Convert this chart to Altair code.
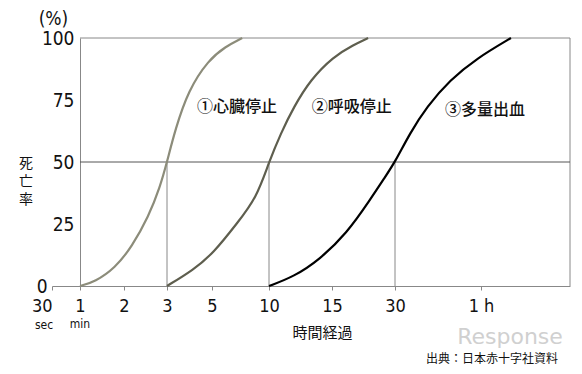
import altair as alt
import pandas as pd

# ---- data ----
c1_min = [1.0, 1.34, 1.80, 2.18, 2.57, 2.84, 3.0, 3.36, 3.95, 4.84, 6.16, 7.65]
c1_pct = [0, 1.7, 7.3, 15.8, 27.9, 40.0, 50, 62.9, 79.0, 91.1, 96.5, 100]

c2_min = [3.0, 4.17, 5.12, 7.2, 8.9, 10.0, 10.94, 11.98, 13.28, 15.3, 20.1, 23.6]
c2_pct = [0, 6.5, 13.2, 25.3, 35.5, 50, 61.6, 72.3, 83.1, 92.5, 97.2, 100]

c3_min = [10, 11.98, 13.98, 18.5, 24.05, 27.7, 30, 35.2, 41.1, 49.2, 58.5, 70.1]
c3_pct = [0, 3.8, 10.5, 21.2, 34.7, 44.1, 50, 61.6, 72.3, 83.1, 91.8, 100]

series_names = ["①心臓停止", "②呼吸停止", "③多量出血"]
series_colors = ["#8c8c7a", "#5e5e4e", "#000000"]

x_ticks = [0.5, 1, 2, 3, 5, 10, 15, 30, 60]
x_domain = [0.5, 1, 2, 3, 5, 10, 15, 30, 60, 90]
y_ticks = [0, 25, 50, 75, 100]

drop_x = [3, 10, 30]          # minutes where each curve reaches 50%
half_level = 50
frame_start, frame_end = 1, 90

label_x = [4.33, 13.4, 47.4]  # annotation left edges (minutes)
label_y = [72, 72, 71]

NUM_FONT = "Liberation Sans Narrow, DejaVu Sans Condensed, Roboto Condensed, Arial Narrow, sans-serif"
JP_FONT = "Noto Sans CJK JP"

# ---- tables ----
rows = []
for name, xs, ys in zip(series_names, [c1_min, c2_min, c3_min], [c1_pct, c2_pct, c3_pct]):
    for i, (a, b) in enumerate(zip(xs, ys)):
        rows.append({"series": name, "t": a, "p": b, "o": i})
curves = pd.DataFrame(rows)

xscale = alt.Scale(domain=x_domain, range=[0, 28, 72, 115, 160, 217, 280, 343, 429, 518],
                   nice=False, zero=False)
yscale = alt.Scale(domain=[0, 100], nice=False, zero=True)

base_x_axis = alt.Axis(
    values=x_ticks,
    labelExpr="datum.value == 0.5 ? '30' : datum.value == 60 ? '1 h' : format(datum.value, 'd')",
    labelAlign={"condition": {"test": "datum.value == 0.5", "value": "right"}, "value": "center"},
    labelFont=NUM_FONT, labelFontSize=18, labelColor="#111", labelPadding=7,
    tickSize=4, tickColor="#888", domainColor="#888", grid=False,
    title="時間経過", titleFont=JP_FONT, titleFontSize=15, titleFontWeight="normal",
    titleColor="#111", titleX=270, titleY=46, titleBaseline="middle",
)
base_y_axis = alt.Axis(
    values=y_ticks, offset=-28, ticks=False, grid=False, domainColor="#888",
    labelFont=NUM_FONT, labelFontSize=19, labelColor="#111",
    labelPadding={"condition": {"test": "datum.value == 0", "value": 33}, "value": 6},
    title="(%)", titleAngle=0, titleFont=NUM_FONT, titleFontSize=19,
    titleFontWeight="normal", titleColor="#111", titleX=-27, titleY=-20,
    titleAlign="center", titleBaseline="middle",
)

lines = alt.Chart(curves).mark_line(interpolate="basis", strokeWidth=2.2).encode(
    x=alt.X("t:Q", scale=xscale, axis=base_x_axis),
    y=alt.Y("p:Q", scale=yscale, axis=base_y_axis),
    color=alt.Color("series:N", scale=alt.Scale(domain=series_names, range=series_colors), legend=None),
    order="o:Q",
)

frame_top = alt.Chart(pd.DataFrame({"a": [frame_start], "b": [frame_end], "y": [100]})).mark_rule(
    color="#888", strokeWidth=1).encode(x=alt.X("a:Q", scale=xscale), x2="b:Q", y=alt.Y("y:Q", scale=yscale))
frame_right = alt.Chart(pd.DataFrame({"a": [frame_end], "y0": [0], "y1": [100]})).mark_rule(
    color="#888", strokeWidth=1).encode(x=alt.X("a:Q", scale=xscale), y=alt.Y("y0:Q", scale=yscale), y2="y1:Q")
half = alt.Chart(pd.DataFrame({"a": [frame_start], "b": [frame_end], "y": [half_level]})).mark_rule(
    color="#555", strokeWidth=1).encode(x=alt.X("a:Q", scale=xscale), x2="b:Q", y=alt.Y("y:Q", scale=yscale))
drops = alt.Chart(pd.DataFrame({"a": drop_x, "y0": [0] * 3, "y1": [half_level] * 3})).mark_rule(
    color="#888", strokeWidth=1).encode(x=alt.X("a:Q", scale=xscale), y=alt.Y("y0:Q", scale=yscale), y2="y1:Q")

labels = alt.Chart(pd.DataFrame({"x": label_x, "y": label_y, "s": series_names})).mark_text(
    align="left", baseline="middle", font=JP_FONT, fontSize=16, fontWeight=500, color="#111").encode(
    x=alt.X("x:Q", scale=xscale), y=alt.Y("y:Q", scale=yscale), text="s:N")

sec_lab = alt.Chart(pd.DataFrame({"x": [0.5], "s": ["sec"]})).mark_text(
    align="center", baseline="middle", font=NUM_FONT, fontSize=12, color="#111", dx=-8).encode(
    x=alt.X("x:Q", scale=xscale), y=alt.value(287), text="s:N")
min_lab = alt.Chart(pd.DataFrame({"x": [1], "s": ["min"]})).mark_text(
    align="center", baseline="middle", font=NUM_FONT, fontSize=12, color="#111").encode(
    x=alt.X("x:Q", scale=xscale), y=alt.value(286), text="s:N")

ylab = alt.Chart(pd.DataFrame({"s": ["死亡率"]})).mark_text(
    text=["死", "亡", "率"], align="center", baseline="middle", font=JP_FONT, fontSize=14,
    lineHeight=18, color="#111").encode(x=alt.value(-26), y=alt.value(126))

source = alt.Chart(pd.DataFrame({"s": ["出典：日本赤十字社資料"]})).mark_text(
    align="right", baseline="middle", font=JP_FONT, fontSize=12, color="#111").encode(
    x=alt.value(506), y=alt.value(321), text="s:N")

watermark = alt.Chart(pd.DataFrame({"s": ["Response"]})).mark_text(
    align="center", baseline="middle", font="DejaVu Sans", fontSize=22, color="#d0d0d0").encode(
    x=alt.value(458), y=alt.value(299), text="s:N")

chart = alt.layer(frame_top, frame_right, half, drops, watermark, lines, labels,
                  sec_lab, min_lab, ylab, source).properties(
    width=518, height=248,
    autosize=alt.AutoSizeParams(type="none"),
    padding={"left": 44, "top": 30, "right": 4, "bottom": 80},
    background="white",
).configure_view(strokeWidth=0)

chart.save("out.html", embed_options={"renderer": "svg", "actions": False})
